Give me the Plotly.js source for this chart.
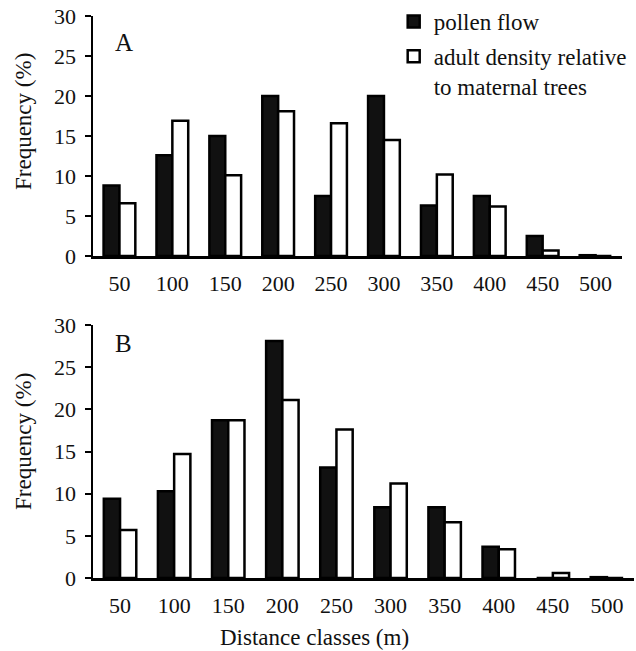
<!DOCTYPE html>
<html><head><meta charset="utf-8">
<script src="https://cdn.plot.ly/plotly-3.0.1.min.js"></script>
<style>html,body{margin:0;padding:0;background:#fff}</style>
</head><body>
<div id="chart" style="width:636px;height:651px"></div>
<script>
const categories = ["50","100","150","200","250","300","350","400","450","500"];
const pollenA = [8.8, 12.6, 15.0, 20.0, 7.5, 20.0, 6.3, 7.5, 2.5, 0.1];
const adultA  = [6.6, 16.9, 10.1, 18.1, 16.6, 14.5, 10.2, 6.2, 0.7, 0];
const pollenB = [9.4, 10.3, 18.7, 28.1, 13.1, 8.4, 8.4, 3.7, 0, 0.1];
const adultB  = [5.7, 14.7, 18.7, 21.1, 17.6, 11.2, 6.6, 3.4, 0.6, 0];
const yTicks = [0, 5, 10, 15, 20, 25, 30];
const seriesNames = ["pollen flow", "adult density relative<br>to maternal trees"];
const yTitle = "Frequency (%)";
const xTitle = "Distance classes (m)";

const FONT = "Liberation Serif, Times New Roman, serif";
const INK = "#111";
const line = {color: "#000", width: 2.5};

const traces = [
  {type:"bar", x:categories, y:pollenA, name:seriesNames[0], xaxis:"x", yaxis:"y",
   marker:{color:INK, line:line}, legendgroup:"g1", showlegend:true},
  {type:"bar", x:categories, y:adultA, name:seriesNames[1], xaxis:"x", yaxis:"y",
   marker:{color:"#fff", line:line}, legendgroup:"g2", showlegend:true},
  {type:"bar", x:categories, y:pollenB, name:seriesNames[0], xaxis:"x2", yaxis:"y2",
   marker:{color:INK, line:line}, showlegend:false},
  {type:"bar", x:categories, y:adultB, name:seriesNames[1], xaxis:"x2", yaxis:"y2",
   marker:{color:"#fff", line:line}, showlegend:false}
];

const xax = {
  type:"category", range:[-0.5, 9.5], showgrid:false, zeroline:false,
  showline:true, linecolor:"#000", linewidth:2.5, ticks:"", fixedrange:true,
  ticklabelstandoff:6,
  tickfont:{family:FONT, size:22, color:INK}
};
const yax = {
  range:[0, 30], tickvals:yTicks, showgrid:false, zeroline:false,
  showline:true, linecolor:"#000", linewidth:2.5, ticks:"outside", ticklen:6,
  tickwidth:2, tickcolor:"#000", fixedrange:true, ticklabelstandoff:4,
  tickfont:{family:FONT, size:22, color:INK}
};

const titleFont = {family:FONT, size:23, color:INK};

const layout = {
  width:636, height:651,
  margin:{l:0, r:0, t:0, b:0},
  paper_bgcolor:"#fff", plot_bgcolor:"#fff",
  barmode:"group", bargap:0.4, bargroupgap:0,
  font:{family:FONT, size:22, color:INK},
  xaxis: Object.assign({}, xax, {domain:[93/636, 622/636], anchor:"y"}),
  yaxis: Object.assign({}, yax, {domain:[(651-256)/651, (651-16)/651], anchor:"x"}),
  xaxis2: Object.assign({}, xax, {domain:[93/636, 634/636], anchor:"y2"}),
  yaxis2: Object.assign({}, yax, {domain:[(651-578)/651, (651-325)/651], anchor:"x2"}),
  legend:{x:0.619, y:1.0, xanchor:"left", yanchor:"top", bgcolor:"rgba(0,0,0,0)",
    font:{family:FONT, size:23, color:INK}, itemwidth:30, valign:"top",
    traceorder:"grouped", tracegroupgap:2},
  annotations:[
    {xref:"paper", yref:"paper", x:124/636, y:1-43/651, text:"A", showarrow:false,
     xanchor:"center", yanchor:"middle", font:{family:FONT, size:25, color:INK}},
    {xref:"paper", yref:"paper", x:123/636, y:1-343/651, text:"B", showarrow:false,
     xanchor:"center", yanchor:"middle", font:{family:FONT, size:25, color:INK}},
    {xref:"paper", yref:"paper", x:23/636, y:1-122/651, text:yTitle, textangle:-90,
     showarrow:false, xanchor:"center", yanchor:"middle", font:titleFont},
    {xref:"paper", yref:"paper", x:23/636, y:1-442/651, text:yTitle, textangle:-90,
     showarrow:false, xanchor:"center", yanchor:"middle", font:titleFont},
    {xref:"paper", yref:"paper", x:218/636, y:1-637/651, text:xTitle,
     showarrow:false, xanchor:"left", yanchor:"middle", font:titleFont}
  ],
  showlegend:true
};

Plotly.newPlot("chart", traces, layout, {displayModeBar:false, staticPlot:true});
</script>
</body></html>
